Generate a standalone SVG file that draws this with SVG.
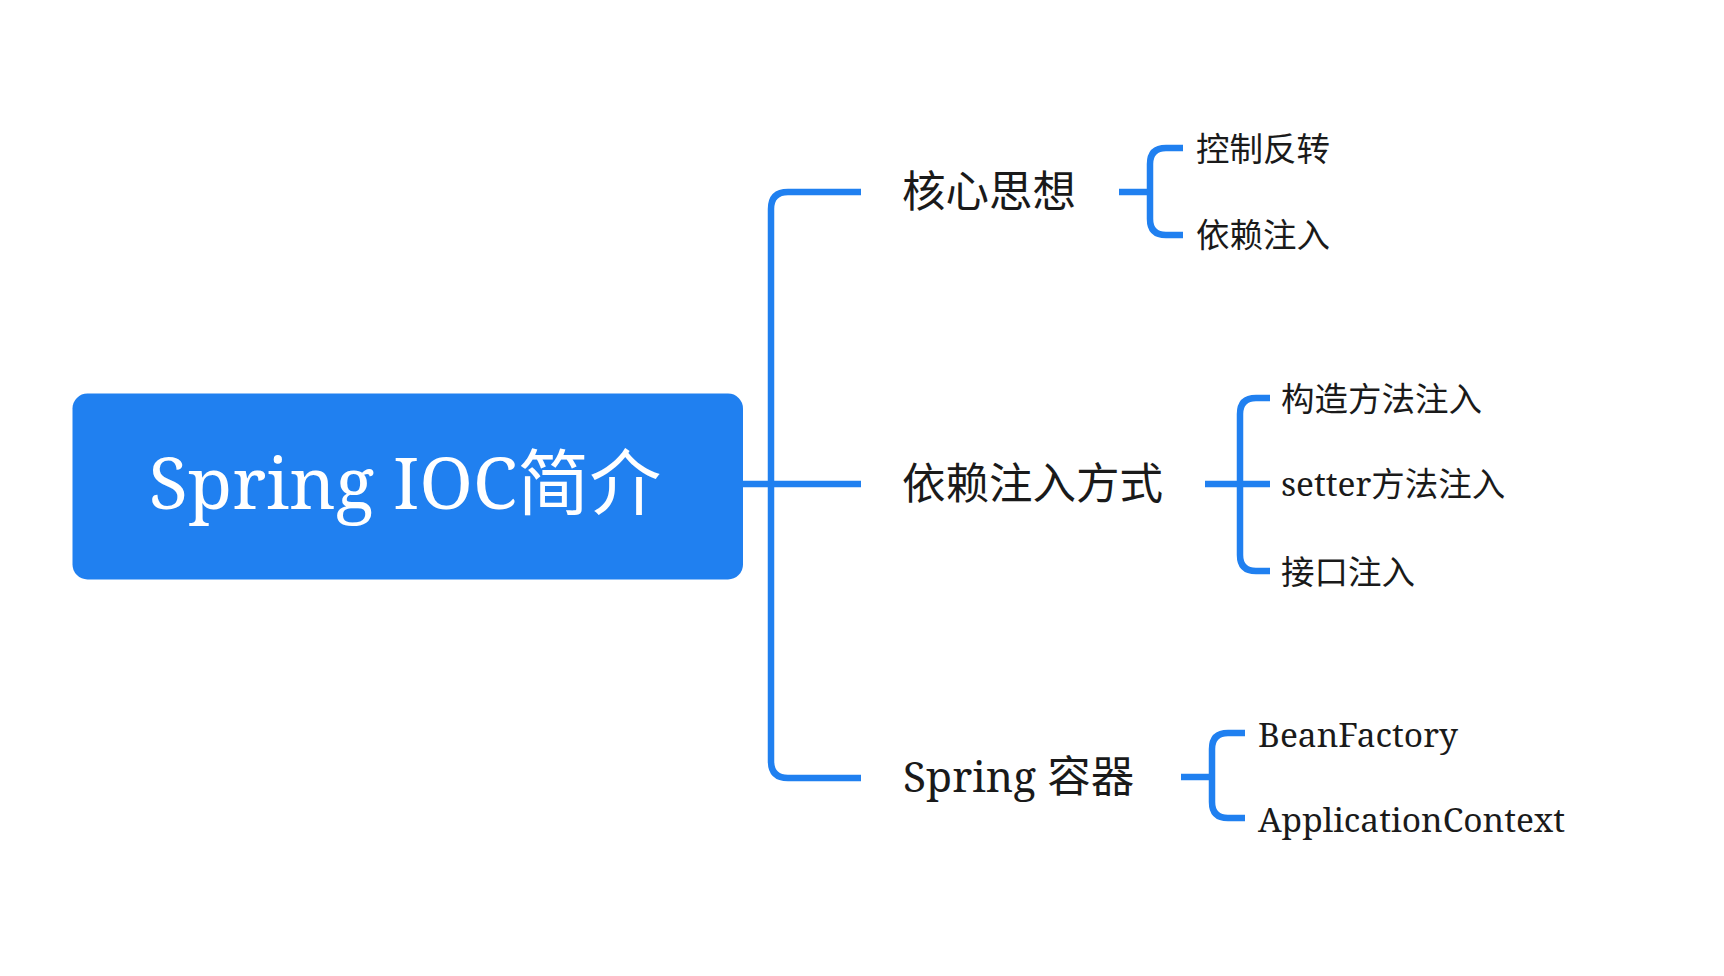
<svg xmlns="http://www.w3.org/2000/svg" width="1724" height="976" viewBox="0 0 1724 976">
<style>
.ln{fill:none;stroke:#2080F0;stroke-width:6.5;stroke-linecap:butt;stroke-linejoin:round}
.lat{font-family:"Noto Serif","DejaVu Serif","Liberation Serif",serif}
.cjk{font-family:"Noto Sans CJK SC","Noto Sans",sans-serif}
.t1{font-size:43.5px;fill:#1a1a1a}
.t2{font-size:33.5px;fill:#1a1a1a}
.l2{font-size:33.5px}
</style>
<rect width="1724" height="976" fill="#ffffff"/>
<g id="connectors">
<path class="ln" d="M861 192 H788 Q771 192 771 209 V761 Q771 778 788 778 H861"/>
<path class="ln" d="M743 484 H861"/>
<path class="ln" d="M1119 192 H1150"/>
<path class="ln" d="M1183 148 H1166 Q1150 148 1150 164 V219 Q1150 235 1166 235 H1183"/>
<path class="ln" d="M1205 484 H1270"/>
<path class="ln" d="M1270 398 H1256 Q1240 398 1240 414 V555 Q1240 571 1256 571 H1270"/>
<path class="ln" d="M1181 777 H1212"/>
<path class="ln" d="M1245 733 H1228 Q1212 733 1212 749 V802 Q1212 818 1228 818 H1245"/>
</g>
<g id="root">
<rect x="72.5" y="393.5" width="670.5" height="186" rx="15" fill="#2080F0"/>
<text x="405" y="509" text-anchor="middle" fill="#ffffff"><tspan class="lat" font-size="72">Spring IOC</tspan><tspan class="cjk" font-size="72">简介</tspan></text>
</g>
<g id="n-core">
<text class="cjk t1" x="902" y="207">核心思想</text>
</g>
<g id="n-ioc">
<text class="cjk t2" x="1196" y="161">控制反转</text>
</g>
<g id="n-di">
<text class="cjk t2" x="1196" y="247">依赖注入</text>
</g>
<g id="n-diway">
<text class="cjk t1" x="902" y="499">依赖注入方式</text>
</g>
<g id="n-ctor">
<text class="cjk t2" x="1281" y="411">构造方法注入</text>
</g>
<g id="n-setter">
<text class="t2" x="1281" y="496"><tspan class="lat l2">setter</tspan><tspan class="cjk">方法注入</tspan></text>
</g>
<g id="n-iface">
<text class="cjk t2" x="1281" y="584">接口注入</text>
</g>
<g id="n-container">
<text class="t1" x="903" y="792"><tspan class="lat" font-size="42.5">Spring </tspan><tspan class="cjk">容器</tspan></text>
</g>
<g id="n-bf">
<text class="lat t2 l2" x="1258" y="747">BeanFactory</text>
</g>
<g id="n-ac">
<text class="lat t2 l2" x="1258" y="832">ApplicationContext</text>
</g>
</svg>
